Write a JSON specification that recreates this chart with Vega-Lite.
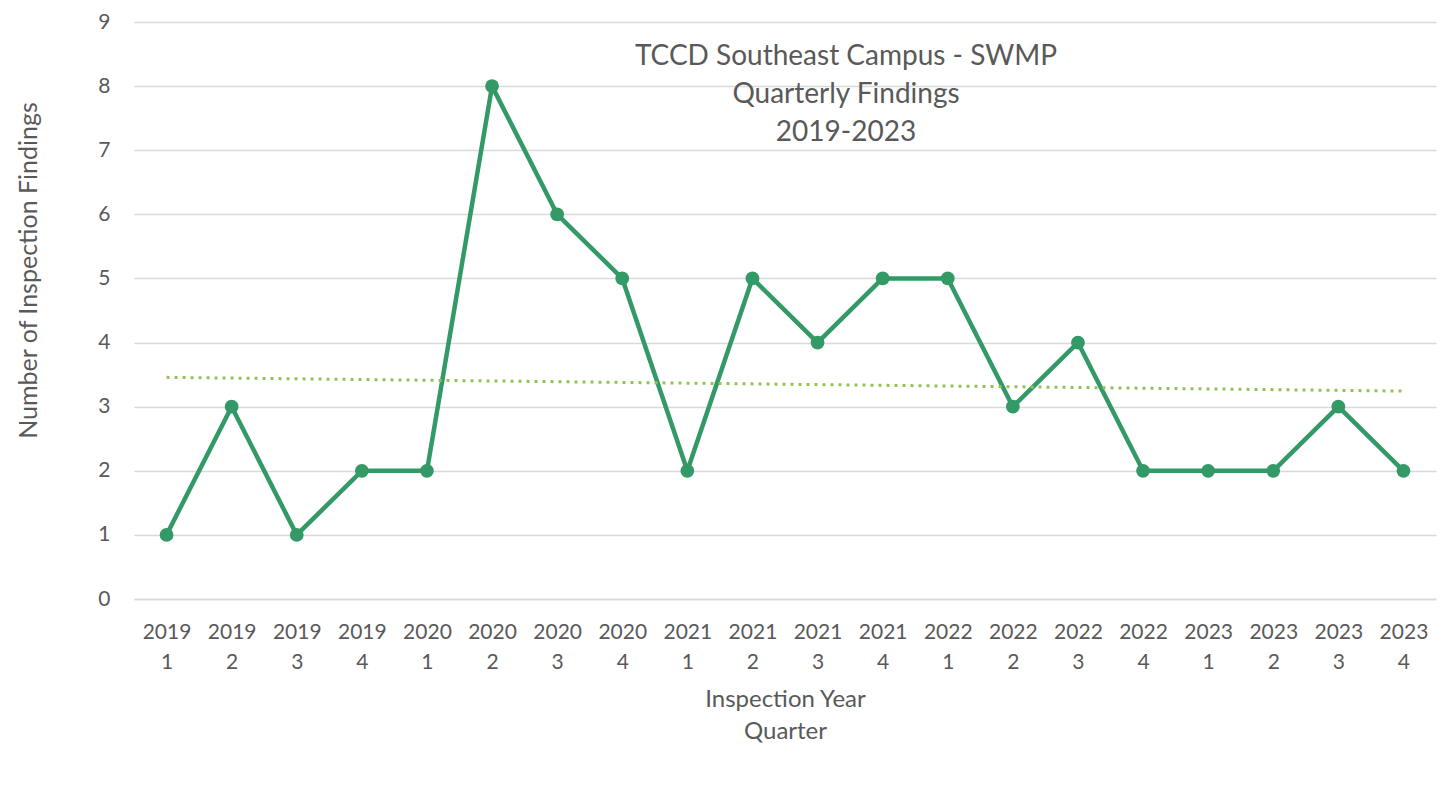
{
  "$schema": "https://vega.github.io/schema/vega-lite/v6.json",
  "width": 1302,
  "height": 577,
  "autosize": "none",
  "padding": {"left": 134, "top": 22, "right": 6, "bottom": 192},
  "background": "white",
  "title": {
    "text": ["TCCD Southeast Campus - SWMP", "Quarterly Findings", "2019-2023"],
    "anchor": "middle",
    "frame": "group",
    "orient": "top",
    "offset": 0,
    "baseline": "top",
    "dx": 61,
    "dy": 136,
    "font": "Lato",
    "fontSize": 28,
    "fontWeight": "normal",
    "color": "#595959",
    "lineHeight": 38
  },
  "data": {
    "values": [
      {"period": "2019 1", "year": 2019, "quarter": 1, "idx": 1, "findings": 1},
      {"period": "2019 2", "year": 2019, "quarter": 2, "idx": 2, "findings": 3},
      {"period": "2019 3", "year": 2019, "quarter": 3, "idx": 3, "findings": 1},
      {"period": "2019 4", "year": 2019, "quarter": 4, "idx": 4, "findings": 2},
      {"period": "2020 1", "year": 2020, "quarter": 1, "idx": 5, "findings": 2},
      {"period": "2020 2", "year": 2020, "quarter": 2, "idx": 6, "findings": 8},
      {"period": "2020 3", "year": 2020, "quarter": 3, "idx": 7, "findings": 6},
      {"period": "2020 4", "year": 2020, "quarter": 4, "idx": 8, "findings": 5},
      {"period": "2021 1", "year": 2021, "quarter": 1, "idx": 9, "findings": 2},
      {"period": "2021 2", "year": 2021, "quarter": 2, "idx": 10, "findings": 5},
      {"period": "2021 3", "year": 2021, "quarter": 3, "idx": 11, "findings": 4},
      {"period": "2021 4", "year": 2021, "quarter": 4, "idx": 12, "findings": 5},
      {"period": "2022 1", "year": 2022, "quarter": 1, "idx": 13, "findings": 5},
      {"period": "2022 2", "year": 2022, "quarter": 2, "idx": 14, "findings": 3},
      {"period": "2022 3", "year": 2022, "quarter": 3, "idx": 15, "findings": 4},
      {"period": "2022 4", "year": 2022, "quarter": 4, "idx": 16, "findings": 2},
      {"period": "2023 1", "year": 2023, "quarter": 1, "idx": 17, "findings": 2},
      {"period": "2023 2", "year": 2023, "quarter": 2, "idx": 18, "findings": 2},
      {"period": "2023 3", "year": 2023, "quarter": 3, "idx": 19, "findings": 3},
      {"period": "2023 4", "year": 2023, "quarter": 4, "idx": 20, "findings": 2}
    ]
  },
  "layer": [
    {
      "mark": {"type": "line", "color": "#339966", "strokeWidth": 4.5, "strokeJoin": "round",
               "point": {"filled": true, "size": 190, "color": "#339966", "opacity": 1}},
      "encoding": {
        "x": {
          "field": "period", "type": "ordinal", "sort": null,
          "axis": {
            "title": ["Inspection Year", "Quarter"],
            "labelAngle": 0,
            "labelExpr": "split(datum.label, ' ')",
            "labelLineHeight": 30,
            "labelBaseline": "top",
            "labelPadding": 22,
            "ticks": false,
            "domain": true,
            "domainColor": "#d9d9d9",
            "domainWidth": 1.3,
            "titlePadding": 15,
            "titleLineHeight": 32
          }
        },
        "y": {
          "field": "findings", "type": "quantitative",
          "scale": {"domain": [0, 9], "nice": false},
          "axis": {
            "title": "Number of  Inspection Findings",
            "values": [0, 1, 2, 3, 4, 5, 6, 7, 8, 9],
            "format": "d",
            "grid": true,
            "gridColor": "#d9d9d9",
            "gridWidth": 1.3,
            "domain": false,
            "ticks": false,
            "labelPadding": 24,
            "titlePadding": 56,
            "titleY": 248,
            "titleFontSize": 25
          }
        }
      }
    },
    {
      "transform": [{"regression": "findings", "on": "idx"}],
      "mark": {"type": "line", "color": "#92c353", "strokeWidth": 3, "strokeDash": [3, 5]},
      "encoding": {
        "x": {"field": "idx", "type": "quantitative", "scale": {"domain": [0.5, 20.5], "nice": false, "zero": false}, "axis": null},
        "y": {"field": "findings", "type": "quantitative"}
      }
    }
  ],
  "resolve": {"scale": {"x": "independent"}},
  "config": {
    "view": {"stroke": null},
    "axis": {
      "labelFont": "Lato",
      "labelFontSize": 21,
      "labelColor": "#595959",
      "titleFont": "Lato",
      "titleFontSize": 24,
      "titleFontWeight": "normal",
      "titleColor": "#595959"
    }
  }
}
